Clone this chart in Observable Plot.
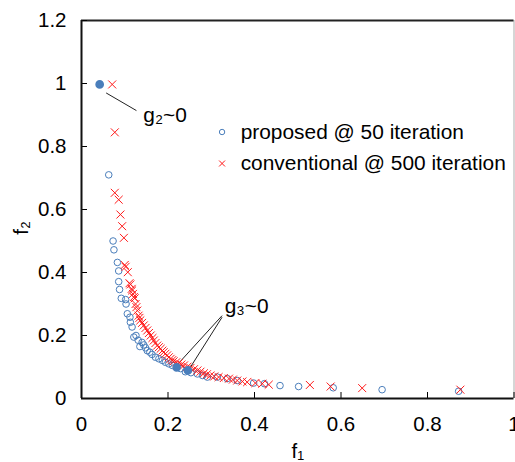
<!DOCTYPE html>
<html>
<head>
<meta charset="utf-8">
<script src="https://cdn.jsdelivr.net/npm/d3@7"></script>
<script src="https://cdn.jsdelivr.net/npm/@observablehq/plot@0.6"></script>
<style>
  body { margin: 0; background: #fff; }
  #chart svg { display: block; }
</style>
</head>
<body>
<div id="chart"></div>
<script>
// ---- data ----
const xTicks = [0, 0.2, 0.4, 0.6, 0.8, 1];
const yTicks = [0, 0.2, 0.4, 0.6, 0.8, 1, 1.2];
const xTickLabels = ["0", "0.2", "0.4", "0.6", "0.8", "1"];
const yTickLabels = ["0", "0.2", "0.4", "0.6", "0.8", "1", "1.2"];

// proposed @ 50 iteration (open circles)
const propF1 = [0.063, 0.073, 0.075, 0.083, 0.086, 0.086, 0.088, 0.092, 0.102, 0.103,
  0.106, 0.112, 0.113, 0.117, 0.121, 0.140, 0.144, 0.148, 0.152, 0.158,
  0.163, 0.171, 0.179, 0.187, 0.194, 0.202, 0.210, 0.229, 0.268, 0.291,
  0.314, 0.337, 0.360, 0.398, 0.423, 0.459, 0.502, 0.582, 0.695, 0.872,
  0.131, 0.135, 0.126, 0.240, 0.253, 0.280];
const propF2 = [0.710, 0.500, 0.472, 0.432, 0.405, 0.371, 0.346, 0.318, 0.314, 0.300,
  0.269, 0.258, 0.242, 0.227, 0.195, 0.178, 0.170, 0.161, 0.152, 0.147,
  0.140, 0.131, 0.126, 0.121, 0.115, 0.110, 0.105, 0.095, 0.078, 0.068,
  0.068, 0.063, 0.057, 0.049, 0.047, 0.041, 0.038, 0.034, 0.028, 0.023,
  0.185, 0.165, 0.200, 0.085, 0.082, 0.073];

// constrained solutions (filled circles)
const fillF1 = [0.042, 0.220, 0.246];
const fillF2 = [0.997, 0.099, 0.089];

// conventional @ 500 iteration (crosses)
const convF1 = [0.071, 0.077, 0.077, 0.086, 0.090, 0.094, 0.098, 0.100, 0.102, 0.107,
  0.111, 0.113, 0.116, 0.117, 0.119, 0.121, 0.123, 0.125, 0.127, 0.129,
  0.132, 0.134, 0.136, 0.140, 0.144, 0.148, 0.152, 0.156, 0.160, 0.164,
  0.167, 0.171, 0.175, 0.179, 0.183, 0.187, 0.190, 0.194, 0.198, 0.202,
  0.206, 0.210, 0.213, 0.219, 0.225, 0.231, 0.237, 0.245, 0.252, 0.260,
  0.268, 0.275, 0.283, 0.290, 0.298, 0.307, 0.317, 0.329, 0.341, 0.350,
  0.360, 0.372, 0.383, 0.402, 0.418, 0.433, 0.528, 0.576, 0.649, 0.876];
const convF2 = [0.997, 0.845, 0.653, 0.631, 0.584, 0.547, 0.510, 0.424, 0.418, 0.401,
  0.366, 0.362, 0.348, 0.343, 0.332, 0.322, 0.318, 0.300, 0.290, 0.279,
  0.263, 0.256, 0.248, 0.240, 0.232, 0.224, 0.216, 0.208, 0.200, 0.192,
  0.184, 0.176, 0.168, 0.163, 0.158, 0.152, 0.147, 0.142, 0.137, 0.131,
  0.126, 0.122, 0.118, 0.115, 0.112, 0.108, 0.105, 0.101, 0.097, 0.093,
  0.089, 0.085, 0.080, 0.077, 0.073, 0.070, 0.068, 0.065, 0.063, 0.060,
  0.057, 0.054, 0.052, 0.049, 0.047, 0.044, 0.043, 0.038, 0.033, 0.028];

// legend & annotations
const legendLabels = ["proposed @ 50 iteration", "conventional @ 500 iteration"];
const legendX = [0.325, 0.368];
const legendY = [0.846, 0.746];
const annText = ["g\u2082~0", "g\u2083~0"];
const annX = [0.143, 0.331];
const annY = [0.900, 0.294];
const leaderX1 = [0.057, 0.325, 0.325];
const leaderY1 = [0.970, 0.263, 0.258];
const leaderX2 = [0.127, 0.220, 0.248];
const leaderY2 = [0.914, 0.105, 0.091];

// ---- tables ----
const prop = propF1.map((x, i) => ({x, y: propF2[i]}));
const conv = convF1.map((x, i) => ({x, y: convF2[i]}));
const filled = fillF1.map((x, i) => ({x, y: fillF2[i]}));
const leaders = leaderX1.map((x1, i) => ({x1, y1: leaderY1[i], x2: leaderX2[i], y2: leaderY2[i]}));
const ann = annText.map((t, i) => ({t, x: annX[i], y: annY[i]}));

const blue = "#4a7ebb";
const red = "#ff1a1a";
const font = "'Liberation Sans', Arial, sans-serif";

const chart = Plot.plot({
  width: 515,
  height: 462,
  marginLeft: 81,
  marginRight: 1.5,
  marginTop: 20,
  marginBottom: 64,
  style: {fontFamily: font, fontSize: "20px", color: "#000", background: "#fff"},
  x: {domain: [0, 1]},
  y: {domain: [0, 1.2]},
  marks: [
    Plot.ruleX([1], {stroke: "#bbb", strokeWidth: 1.2}),
    Plot.ruleY([1.2], {stroke: "#222", strokeWidth: 2}),
    Plot.axisX({ticks: xTicks, tickFormat: (d, i) => xTickLabels[i], tickSize: -6, tickPadding: 24,
      fontSize: 20.5, label: null, stroke: "#000"}),
    Plot.axisY({ticks: yTicks, tickFormat: (d, i) => yTickLabels[i], tickSize: -6, tickPadding: 21,
      fontSize: 20.5, label: null, stroke: "#000"}),
    Plot.ruleX([0], {stroke: "#111", strokeWidth: 2}),
    Plot.ruleY([0], {stroke: "#111", strokeWidth: 2}),
    Plot.link(leaders, {x1: "x1", y1: "y1", x2: "x2", y2: "y2", stroke: "#222", strokeWidth: 1}),
    Plot.dot(prop, {x: "x", y: "y", r: 3.3, stroke: blue, strokeWidth: 1, fill: "none"}),
    Plot.dot(conv, {x: "x", y: "y", symbol: "times", r: 3.7, stroke: red, strokeWidth: 1}),
    Plot.dot(filled, {x: "x", y: "y", r: 3.6, fill: blue, stroke: blue}),
    // legend
    Plot.dot([0], {x: legendX[0], y: legendY[0], r: 2.7, stroke: blue, strokeWidth: 1, fill: "none"}),
    Plot.dot([0], {x: legendX[0], y: legendY[1], symbol: "times", r: 2.8, stroke: red, strokeWidth: 1}),
    Plot.text(legendLabels, {x: legendX[1], y: (d, i) => legendY[i], text: d => d, textAnchor: "start",
      lineAnchor: "middle", fontSize: 20.9, fill: "#000"}),
    // annotations
    Plot.text(ann, {x: "x", y: "y", text: "t", textAnchor: "start", lineAnchor: "middle", fontSize: 20.9, fill: "#000"}),
    // axis titles
    Plot.text(["f\u2081"], {x: 0.5, frameAnchor: "bottom", dy: 45, lineAnchor: "top", fontSize: 20.5, fill: "#000"}),
    Plot.text(["f\u2082"], {y: 0.52, frameAnchor: "left", dx: -60, rotate: -90, lineAnchor: "middle", fontSize: 20.5, fill: "#000"})
  ]
});
document.getElementById("chart").appendChild(chart);
</script>
</body>
</html>
